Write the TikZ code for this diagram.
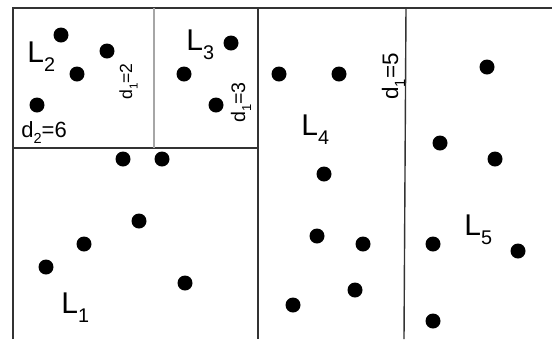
\documentclass[tikz,border=0pt]{standalone}
\usepackage{fontspec}
\setmainfont{Liberation Sans}
\usepackage{tikz}

\newcommand{\lsub}[1]{\raisebox{-0.6ex}{\scalebox{0.66}{#1}}}

\begin{document}
\begin{tikzpicture}[x=0.5pt, y=-0.5pt,
    border/.style={draw=black!80, line width=0.7pt},
    split/.style={draw=black!35, line width=0.7pt},
    pt/.style={circle, fill=black, inner sep=0pt, minimum size=7.5pt},
    region/.style={anchor=base west, inner sep=0pt, font=\fontsize{15}{15}\selectfont},
    dist/.style={anchor=base west, inner sep=0pt}]

    \useasboundingbox (0,0) rectangle (552,339);

    % partition lines
    \draw [border] (13,339) -- (13,8) -- (552,8);
    \draw [border] (13,148) -- (258,148);
    \draw [split] (154,8) -- (154,148);
    \draw [border] (258,8) -- (258,339);
    \draw [border] (406,8) -- (404,339);

    % points
    \foreach \x/\y [count=\i] in {61/35, 107/51, 77/74, 37/105, 184/74, 231/43, 216/105,
        123/159, 162/159, 139/221, 84/244, 46/267, 185/283,
        279/74, 339/74, 324/174, 317/236, 363/244, 355/290, 293/305,
        487/67, 440/143, 495/159, 433/244, 518/251, 433/321}
        \node [pt] (p\i) at (\x,\y) {};

    % region labels
    \node [region] (l1) at (61,313) {L\lsub{1}};
    \node [region] (l2) at (27,62) {L\lsub{2}};
    \node [region] (l3) at (186,50) {L\lsub{3}};
    \node [region] (l4) at (301,135) {L\lsub{4}};
    \node [region] (l5) at (464,235) {L\lsub{5}};

    % distances
    \node [dist, font=\fontsize{11}{11}\selectfont] (d26) at (21,137) {d\lsub{2}=6};
    \node [dist, rotate=90, font=\fontsize{8.8}{9}\selectfont] (d12) at (132,100) {d\lsub{1}=2};
    \node [dist, rotate=90, font=\fontsize{9.8}{10}\selectfont] (d13) at (245,123) {d\lsub{1}=3};
    \node [dist, rotate=90, font=\fontsize{11.2}{11}\selectfont] (d15) at (398,100) {d\lsub{1}=5};
\end{tikzpicture}
\end{document}
